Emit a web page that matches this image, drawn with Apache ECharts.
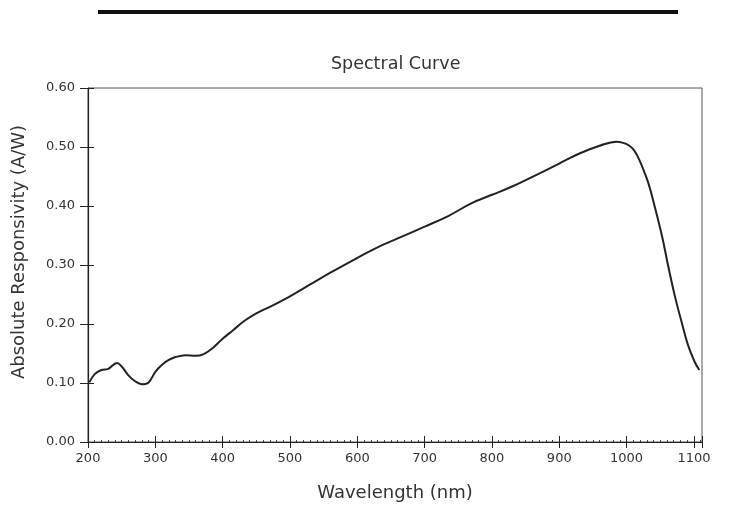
<!DOCTYPE html>
<html>
<head>
<meta charset="utf-8">
<script src="https://cdn.jsdelivr.net/npm/echarts@6/dist/echarts.min.js"></script>
<style>
  body { margin: 0; background: #fff; }
</style>
</head>
<body>
<div id="main" style="width: 735px; height: 508px"></div>
<script>
// wavelength in nm
const wavelength = [202, 210, 220, 230, 243, 250, 260, 270, 280, 290, 300, 310, 320, 330, 345, 360, 372, 385,
  400, 415, 432, 450, 470, 500, 530, 560, 600, 630, 660, 700, 735, 770, 800, 830, 870, 900, 930, 960, 985,
  995, 1003, 1010, 1016, 1022, 1032, 1042, 1053, 1062, 1072, 1082, 1091, 1101, 1108]
// absolute responsivity in A/W
const responsivity = [0.101, 0.115, 0.122, 0.124, 0.134, 0.128, 0.113, 0.103, 0.098, 0.101, 0.119, 0.131, 0.139, 0.144, 0.147, 0.146, 0.149, 0.159,
  0.175, 0.189, 0.205, 0.218, 0.229, 0.247, 0.267, 0.287, 0.312, 0.330, 0.345, 0.365, 0.383, 0.405, 0.419, 0.433, 0.455, 0.472, 0.489, 0.502, 0.509,
  0.507, 0.503, 0.496, 0.485, 0.470, 0.440, 0.398, 0.347, 0.297, 0.246, 0.202, 0.165, 0.136, 0.122]
const xTicks = [200, 300, 400, 500, 600, 700, 800, 900, 1000, 1100]

const font = 'DejaVu Sans'
const chart = echarts.init(document.getElementById('main'))
chart.setOption({
  animation: false,
  textStyle: { fontFamily: font },
  title: {
    text: 'Spectral Curve',
    left: 326,
    top: 50,
    textStyle: { fontFamily: font, fontSize: 17.5, fontWeight: 'normal', color: '#333' },
  },
  graphic: [
    { type: 'rect', shape: { x: 98, y: 10, width: 580, height: 4 }, style: { fill: '#111' } },
  ],
  grid: {
    left: 88, top: 88, right: 33, bottom: 66,
    outerBoundsMode: 'none',
    show: true, borderColor: '#555', borderWidth: 1,
  },
  xAxis: [
    {
      type: 'value', min: 200, max: 1112, interval: 100,
      name: 'Wavelength (nm)', nameLocation: 'middle', nameGap: 42,
      nameTextStyle: { fontSize: 18, color: '#333' },
      axisLine: { lineStyle: { color: '#222', width: 1.2 } },
      axisTick: { length: 6, lineStyle: { color: '#222' } },
      axisLabel: {
        margin: 10, fontSize: 13, color: '#333',
        customValues: xTicks,
        formatter: (v) => String(v),
      },
      splitLine: { show: false },
    },
    {
      type: 'value', min: 200, max: 1112, interval: 100, position: 'bottom',
      axisLine: { show: false },
      axisTick: { inside: true, length: 6, lineStyle: { color: '#222' } },
      minorTick: { show: true, splitNumber: 10, length: 2, lineStyle: { color: '#444' } },
      axisLabel: { show: false },
      splitLine: { show: false },
    },
  ],
  yAxis: [
    {
      type: 'value', min: 0, max: 0.6, interval: 0.1,
      name: 'Absolute Responsivity (A/W)', nameLocation: 'middle', nameGap: 60,
      nameTextStyle: { fontSize: 18, color: '#333', padding: [0, 0, 0, 26] },
      axisLine: { show: true, lineStyle: { color: '#222', width: 1.2 } },
      axisTick: { show: true, length: 8, lineStyle: { color: '#222' } },
      axisLabel: {
        margin: 13, fontSize: 13, color: '#333',
        formatter: (v) => v.toFixed(2),
      },
      splitLine: { show: false },
    },
    {
      type: 'value', min: 0, max: 0.6, interval: 0.1, position: 'left',
      axisLine: { show: false },
      axisTick: { show: true, inside: true, length: 6, lineStyle: { color: '#222' } },
      axisLabel: { show: false },
      splitLine: { show: false },
    },
  ],
  series: [
    {
      type: 'line',
      data: wavelength.map((w, i) => [w, responsivity[i]]),
      smooth: 0.4,
      showSymbol: false,
      lineStyle: { color: '#222', width: 2 },
    },
  ],
})
</script>
</body>
</html>
